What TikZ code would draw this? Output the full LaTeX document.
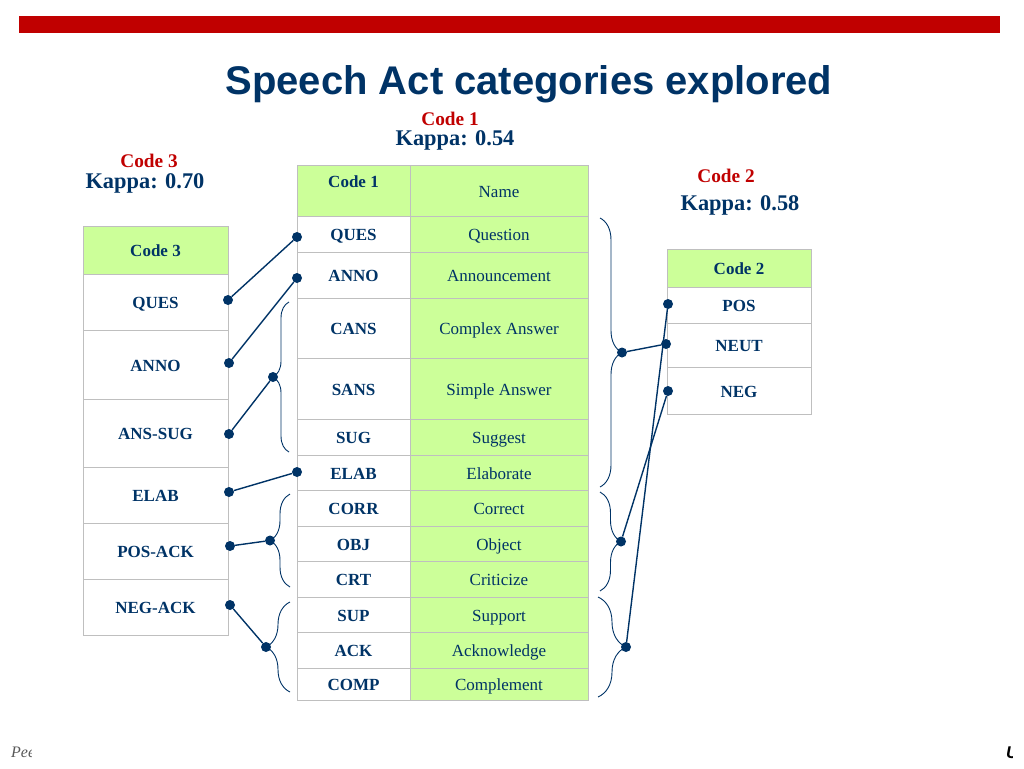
\documentclass[tikz,border=0pt]{standalone}
\usepackage{fontspec}
\setmainfont{Liberation Serif}
\newfontfamily\titlefont{Liberation Sans}
\usetikzlibrary{positioning,decorations.pathreplacing}
\definecolor{navy}{HTML}{003366}
\definecolor{darkred}{HTML}{C00000}
\definecolor{lightlime}{HTML}{CCFF99}
\definecolor{gridgray}{HTML}{BFBFBF}
\definecolor{footgray}{HTML}{595959}
\tikzset{
        cell/.style = {draw=gridgray, rectangle, outer sep=0pt, inner sep=1pt,
            text height=13pt, text depth=0pt,
            text=navy, font=\fontsize{17}{20}\selectfont\bfseries},
        head/.style = {fill=lightlime},
        codecell/.style = {cell, minimum width=113pt},
        namecell/.style = {cell, fill=lightlime, minimum width=178pt,
            font=\fontsize{17}{20}\selectfont},
        leftcell/.style = {cell, minimum width=145pt},
        rightcell/.style = {cell, minimum width=144pt},
        dot/.style = {circle, fill=navy, inner sep=0pt, minimum size=10pt},
        link/.style = {draw=navy, line width=1.4pt},
        curly/.style = {decorate, decoration={brace, amplitude=#1},
            draw=navy, line width=0.9pt},
        codelabel/.style = {anchor=base, inner sep=0pt, text=darkred,
            font=\fontsize{19.3}{22}\selectfont\bfseries},
        kappa/.style = {anchor=base, inner sep=0pt, text=navy,
            font=\fontsize{22.4}{26}\selectfont\bfseries},
    }

\begin{document}
\begin{tikzpicture}[x=1pt, y=-1pt]
    \useasboundingbox (0,0) rectangle (1024,768);
    \fill[darkred] (19,16) rectangle (1000,33);
    \node[anchor=base, text=navy, font=\titlefont\fontsize{40}{48}\selectfont\bfseries]
        (title) at (529,94) {Speech Act categories explored};

    % kappa labels
    \node[codelabel] (code1) at (450,125) {Code 1};
    \node[kappa] (kappa1) at (455,145) {Kappa: 0.54};
    \node[codelabel] (code3) at (149,167) {Code 3};
    \node[kappa] (kappa3) at (145,188) {Kappa: 0.70};
    \node[codelabel] (code2) at (726,182) {Code 2};
    \node[kappa] (kappa2) at (740,210) {Kappa: 0.58};

    % code 1 table
    \node[codecell, head, minimum height=51pt, text depth=18.5pt, anchor=north west] (c1head) at (297,165) {Code 1};
    \node[namecell, minimum height=51pt, right=0pt of c1head] (nmhead) {Name};
    \node[codecell, minimum height=36pt, below=0pt of c1head] (c1ques) {QUES};
    \node[namecell, minimum height=36pt, right=0pt of c1ques] (nmques) {Question};
    \node[codecell, minimum height=46pt, below=0pt of c1ques] (c1anno) {ANNO};
    \node[namecell, minimum height=46pt, right=0pt of c1anno] (nmanno) {Announcement};
    \node[codecell, minimum height=60pt, below=0pt of c1anno] (c1cans) {CANS};
    \node[namecell, minimum height=60pt, right=0pt of c1cans] (nmcans) {Complex Answer};
    \node[codecell, minimum height=61pt, below=0pt of c1cans] (c1sans) {SANS};
    \node[namecell, minimum height=61pt, right=0pt of c1sans] (nmsans) {Simple Answer};
    \node[codecell, minimum height=36pt, below=0pt of c1sans] (c1sug) {SUG};
    \node[namecell, minimum height=36pt, right=0pt of c1sug] (nmsug) {Suggest};
    \node[codecell, minimum height=35pt, below=0pt of c1sug] (c1elab) {ELAB};
    \node[namecell, minimum height=35pt, right=0pt of c1elab] (nmelab) {Elaborate};
    \node[codecell, minimum height=36pt, below=0pt of c1elab] (c1corr) {CORR};
    \node[namecell, minimum height=36pt, right=0pt of c1corr] (nmcorr) {Correct};
    \node[codecell, minimum height=35pt, below=0pt of c1corr] (c1obj) {OBJ};
    \node[namecell, minimum height=35pt, right=0pt of c1obj] (nmobj) {Object};
    \node[codecell, minimum height=36pt, below=0pt of c1obj] (c1crt) {CRT};
    \node[namecell, minimum height=36pt, right=0pt of c1crt] (nmcrt) {Criticize};
    \node[codecell, minimum height=35pt, below=0pt of c1crt] (c1sup) {SUP};
    \node[namecell, minimum height=35pt, right=0pt of c1sup] (nmsup) {Support};
    \node[codecell, minimum height=36pt, below=0pt of c1sup] (c1ack) {ACK};
    \node[namecell, minimum height=36pt, right=0pt of c1ack] (nmack) {Acknowledge};
    \node[codecell, minimum height=32pt, below=0pt of c1ack] (c1comp) {COMP};
    \node[namecell, minimum height=32pt, right=0pt of c1comp] (nmcomp) {Complement};

    % code 3 table
    \node[leftcell, head, minimum height=48pt, anchor=north west] (c3head) at (83,226) {Code 3};
    \node[leftcell, minimum height=56pt, below=0pt of c3head] (c3ques) {QUES};
    \node[leftcell, minimum height=69pt, below=0pt of c3ques] (c3anno) {ANNO};
    \node[leftcell, minimum height=68pt, below=0pt of c3anno] (c3anssug) {ANS-SUG};
    \node[leftcell, minimum height=56pt, below=0pt of c3anssug] (c3elab) {ELAB};
    \node[leftcell, minimum height=56pt, below=0pt of c3elab] (c3posack) {POS-ACK};
    \node[leftcell, minimum height=56pt, below=0pt of c3posack] (c3negack) {NEG-ACK};

    % code 2 table
    \node[rightcell, head, minimum height=38pt, anchor=north west] (c2head) at (667,249) {Code 2};
    \node[rightcell, minimum height=36pt, below=0pt of c2head] (c2pos) {POS};
    \node[rightcell, minimum height=44pt, below=0pt of c2pos] (c2neut) {NEUT};
    \node[rightcell, minimum height=47pt, below=0pt of c2neut] (c2neg) {NEG};

    % braces
    \draw[curly=16pt] (289,452) -- (289,302);
    \draw[curly=20pt] (290,587) -- (290,494);
    \draw[curly=24pt] (290,692) -- (290,602);
    \draw[curly=22pt] (600,218) -- (600,487);
    \draw[curly=21pt] (600,492) -- (600,591);
    \draw[curly=28pt] (598,597) -- (598,697);

    % dots
    \node[dot] (mques) at (297,237) {};
    \node[dot] (manno) at (297,278) {};
    \node[dot] (melab) at (297,472) {};
    \node[dot] (lques) at (228,300) {};
    \node[dot] (lanno) at (229,363) {};
    \node[dot] (lanssug) at (229,434) {};
    \node[dot] (lelab) at (229,492) {};
    \node[dot] (lposack) at (230,546) {};
    \node[dot] (lnegack) at (230,605) {};
    \node[dot] (tans) at (273,377) {};
    \node[dot] (tcorr) at (270,540.5) {};
    \node[dot] (tsup) at (266,647) {};
    \node[dot] (rques) at (622,352.5) {};
    \node[dot] (rcorr) at (621,541.5) {};
    \node[dot] (rsup) at (626,647) {};
    \node[dot] (rpos) at (668,304) {};
    \node[dot] (rneut) at (666,344) {};
    \node[dot] (rneg) at (668,391) {};

    \draw[link] (lques) -- (mques);
    \draw[link] (lanno) -- (manno);
    \draw[link] (lanssug) -- (tans);
    \draw[link] (lelab) -- (melab);
    \draw[link] (lposack) -- (tcorr);
    \draw[link] (lnegack) -- (tsup);
    \draw[link] (rques) -- (rneut);
    \draw[link] (rcorr) -- (rneg);
    \draw[link] (rsup) -- (rpos);

    % footer
    \begin{scope}
        \clip (0,735) rectangle (31,768);
        \node[anchor=base west, inner sep=0pt, text=footgray, font=\fontsize{16}{18}\selectfont\itshape]
            (foot) at (11,757) {Pee};
    \end{scope}
    \begin{scope}
        \clip (1000,735) rectangle (1012,768);
        \node[anchor=base west, inner sep=0pt, font=\titlefont\fontsize{17}{20}\selectfont\bfseries\itshape]
            (footr) at (1006,758) {U};
    \end{scope}
\end{tikzpicture}
\end{document}
